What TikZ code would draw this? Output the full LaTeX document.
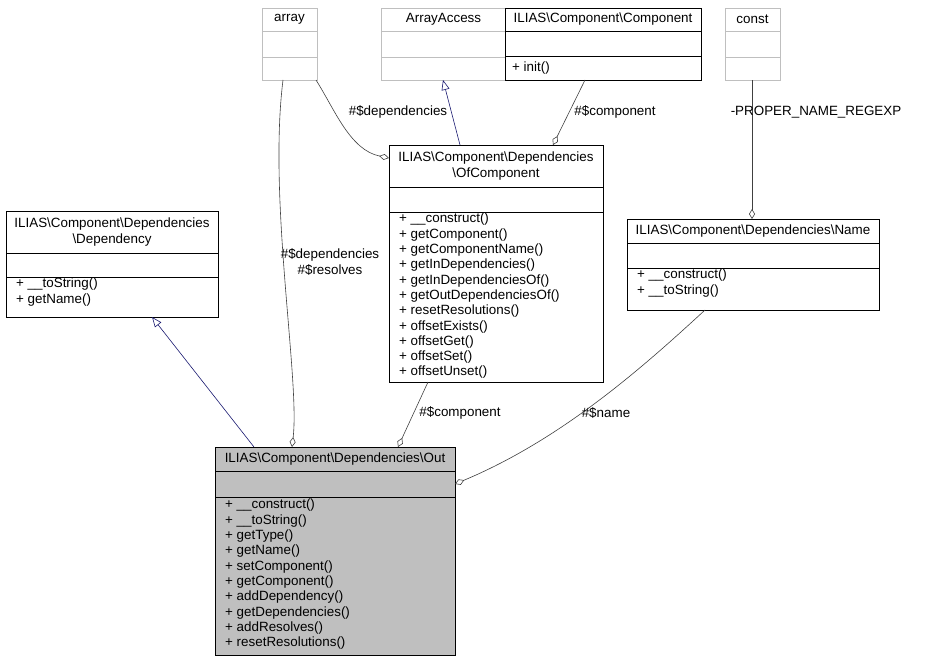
\documentclass[tikz,border=0pt]{standalone}
\usepackage{fontspec}
\setmainfont{Liberation Sans}
\usetikzlibrary{arrows.meta}
\definecolor{navy}{RGB}{25,25,112}
\definecolor{edge}{RGB}{64,64,64}
\begin{document}
\begin{tikzpicture}[x=1pt,y=-1pt,
  txt/.style={font=\fontsize{13.4}{15.3}\selectfont,inner sep=0pt,align=left},
  lbl/.style={font=\fontsize{13.4}{15.3}\selectfont,inner sep=1pt,align=center},
  dia/.style={-{Diamond[open,length=10pt,width=6pt]},edge,line width=0.6pt},
  inh/.style={-{Triangle[open,length=10pt,width=8pt]},navy,line width=0.6pt}]
\useasboundingbox (0,0) rectangle (933,661);
\newcommand{\umlbox}[9]{%
  \path[draw=#8,fill=#9,line width=0.6pt] (#2,#3) rectangle (#4,#5);
  \draw[#8,line width=0.6pt] (#2,#6) -- (#4,#6) (#2,#7) -- (#4,#7);
  \coordinate (#1) at ({(#2+#4)/2},{(#3+#5)/2});}
\umlbox{arr}{262}{8}{317}{80}{31}{57}{black!25}{white}
\node[txt] (tarr) at (289.5,19.5) {array};
\umlbox{aa}{381}{8}{506}{80}{31}{57}{black!25}{white}
\node[txt] (taa) at (443.5,19.5) {ArrayAccess};
\umlbox{cc}{505}{8}{701}{80}{31}{56}{black}{white}
\node[txt] (tcc) at (603,19.5) {ILIAS\textbackslash Component\textbackslash Component};
\node[txt,anchor=west] (mcc) at (512,68) {+ init()};
\umlbox{cst}{725}{8}{780}{80}{31}{57}{black!25}{white}
\node[txt] (tcst) at (752.5,19.5) {const};
\umlbox{oc}{389}{145}{603}{382}{187}{212}{black}{white}
\node[txt,align=center] (toc) at (496,166) {ILIAS\textbackslash Component\textbackslash Dependencies\\\textbackslash OfComponent};
\node[txt,anchor=north west] (moc) at (399,213) {+ \_\_construct()\\+ getComponent()\\+ getComponentName()\\+ getInDependencies()\\+ getInDependenciesOf()\\+ getOutDependenciesOf()\\+ resetResolutions()\\+ offsetExists()\\+ offsetGet()\\+ offsetSet()\\+ offsetUnset()};
\umlbox{dep}{6}{211}{218}{317}{253}{277}{black}{white}
\node[txt,align=center] (tdep) at (112,232) {ILIAS\textbackslash Component\textbackslash Dependencies\\\textbackslash Dependency};
\node[txt,anchor=north west] (mdep) at (16,278) {+ \_\_toString()\\+ getName()};
\umlbox{nm}{627}{219}{879}{310}{243}{268}{black}{white}
\node[txt] (tnm) at (753,231) {ILIAS\textbackslash Component\textbackslash Dependencies\textbackslash Name};
\node[txt,anchor=north west] (mnm) at (637,269) {+ \_\_construct()\\+ \_\_toString()};
\umlbox{out}{215}{447}{455}{655}{471}{497}{black}{black!25}
\node[txt] (tout) at (335,459) {ILIAS\textbackslash Component\textbackslash Dependencies\textbackslash Out};
\node[txt,anchor=north west] (mout) at (225,499) {+ \_\_construct()\\+ \_\_toString()\\+ getType()\\+ getName()\\+ setComponent()\\+ getComponent()\\+ addDependency()\\+ getDependencies()\\+ addResolves()\\+ resetResolutions()};
\coordinate (o1) at (254,447); \coordinate (d1) at (152,317);
\coordinate (a1) at (283,80); \coordinate (o2) at (292,447);
\coordinate (a2) at (316,80); \coordinate (oc1) at (389,158);
\coordinate (oc2) at (460,145); \coordinate (aa1) at (443,80);
\coordinate (cc1) at (585,80); \coordinate (oc3) at (553,145);
\coordinate (oc4) at (428,382); \coordinate (o3) at (398,447);
\coordinate (n1) at (705,310); \coordinate (o4) at (455,484);
\coordinate (cs1) at (752,80); \coordinate (n2) at (752,219);
\draw[inh] (o1) -- (d1);
\draw[dia] (a1) .. controls (268,200) and (300,380) .. (o2);
\draw[dia] (a2) .. controls (335,110) and (350,150) .. (oc1);
\draw[inh] (oc2) -- (aa1);
\draw[dia] (cc1) -- (oc3);
\draw[dia] (oc4) -- (o3);
\draw[dia] (n1) .. controls (640,370) and (560,440) .. (o4);
\draw[dia] (cs1) -- (n2);
\node[lbl] (l1) at (330,262) {\#\$dependencies\\\#\$resolves};
\node[lbl] (l2) at (398,112) {\#\$dependencies};
\node[lbl] (l3) at (615,112) {\#\$component};
\node[lbl] (l4) at (460,413) {\#\$component};
\node[lbl] (l5) at (606,413) {\#\$name};
\node[lbl] (l6) at (816,112) {-PROPER\_NAME\_REGEXP};
\end{tikzpicture}
\end{document}
